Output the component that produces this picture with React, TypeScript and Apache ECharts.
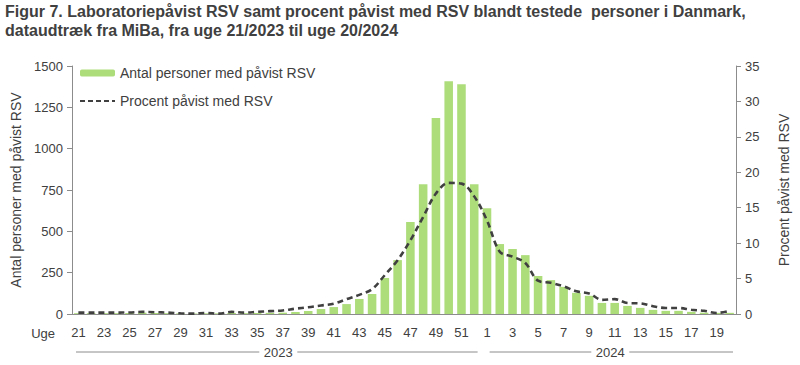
import React, { useEffect, useRef } from "react";
import * as echarts from "echarts";

const TITLE = "Figur 7. Laboratoriepåvist RSV samt procent påvist med RSV blandt testede  personer i Danmark,\ndataudtræk fra MiBa, fra uge 21/2023 til uge 20/2024";

const weeks: string[] = [
  "21", "22", "23", "24", "25", "26", "27", "28", "29", "30", "31", "32", "33", "34", "35", "36",
  "37", "38", "39", "40", "41", "42", "43", "44", "45", "46", "47", "48", "49", "50", "51", "52",
  "1", "2", "3", "4", "5", "6", "7", "8", "9", "10", "11", "12", "13", "14", "15", "16", "17", "18", "19", "20",
];
const years = [
  { label: "2023", from: 0, to: 31 },
  { label: "2024", from: 32, to: 51 },
];

const antalPersoner: number[] = [
  5, 5, 5, 5, 6, 8, 6, 5, 4, 3, 4, 4, 6, 5, 6, 7,
  8, 12, 18, 30, 42, 60, 91, 121, 218, 326, 556, 785, 1185, 1408, 1390, 785,
  640, 423, 393, 356, 230, 205, 164, 128, 110, 67, 67, 49, 37, 25, 19, 19, 13, 8, 7, 7,
];
const procentPaavist: number[] = [
  0.2, 0.2, 0.2, 0.2, 0.22, 0.3, 0.25, 0.2, 0.1, 0.05, 0.15, 0.05, 0.3, 0.2, 0.3, 0.4,
  0.5, 0.75, 0.95, 1.2, 1.45, 2.1, 2.7, 3.5, 5.5, 7.6, 10.4, 13.7, 17.0, 18.5, 18.4, 16.6,
  13.2, 8.8, 8.1, 7.2, 4.7, 4.4, 3.9, 3.2, 2.9, 2.0, 2.1, 1.55, 1.5, 1.1, 0.85, 0.85, 0.6, 0.45, 0.15, 0.45,
];

const FONT = "'Liberation Sans', Arial, sans-serif";
const TXT = "#404040";
const AXIS = "#8c8c8c";

export default function App() {
  const ref = useRef<HTMLDivElement>(null);
  useEffect(() => {
    if (!ref.current) return;
    const chart = echarts.init(ref.current, undefined, { renderer: "svg" });
    const option: any = {
      animation: false,
      textStyle: { fontFamily: FONT },
      title: {
        text: TITLE,
        left: 5,
        top: 2,
        padding: 0,
        textStyle: { fontFamily: FONT, fontSize: 16, fontWeight: "bold", color: TXT, lineHeight: 19 },
      },
      legend: {
        orient: "vertical",
        left: 79,
        top: 65,
        padding: 0,
        itemWidth: 35,
        itemHeight: 7,
        itemGap: 12,
        textStyle: { fontFamily: FONT, fontSize: 14, color: TXT, lineHeight: 16 },
        data: [
          { name: "Antal personer med påvist RSV" },
          { name: "Procent påvist med RSV", itemStyle: { opacity: 0 }, lineStyle: { width: 2, type: [5, 3], color: "#404040" } },
        ],
      },
      grid: { left: 72, right: 64, top: 66, bottom: 51, containLabel: false },
      xAxis: {
        type: "category",
        data: weeks,
        axisLine: { lineStyle: { color: AXIS, width: 1 } },
        axisTick: { interval: 0, length: 5, lineStyle: { color: AXIS } },
        axisLabel: { interval: 1, fontSize: 13, color: TXT, margin: 12, fontFamily: FONT },
      },
      yAxis: [
        {
          type: "value",
          min: 0,
          max: 1500,
          interval: 250,
          name: "Antal personer med påvist RSV",
          nameLocation: "middle",
          nameRotate: 90,
          nameGap: 46,
          nameTextStyle: { fontSize: 14, color: TXT, fontFamily: FONT },
          splitLine: { show: false },
          axisLine: { show: true, lineStyle: { color: AXIS } },
          axisTick: { show: true, length: 5, lineStyle: { color: AXIS } },
          axisLabel: { fontSize: 13, color: TXT, margin: 9, fontFamily: FONT, formatter: (v: number) => String(v) },
        },
        {
          type: "value",
          min: 0,
          max: 35,
          interval: 5,
          name: "Procent påvist med RSV",
          nameLocation: "middle",
          nameRotate: 90,
          nameGap: 41,
          nameTextStyle: { fontSize: 14, color: TXT, fontFamily: FONT },
          splitLine: { show: false },
          axisLine: { show: true, lineStyle: { color: AXIS } },
          axisTick: { show: true, length: 5, lineStyle: { color: AXIS } },
          axisLabel: { fontSize: 13, color: TXT, margin: 9, fontFamily: FONT },
        },
      ],
      series: [
        {
          name: "Antal personer med påvist RSV",
          type: "bar",
          data: antalPersoner,
          barCategoryGap: "33%",
          itemStyle: { color: "#addc7b" },
        },
        {
          name: "Procent påvist med RSV",
          type: "line",
          yAxisIndex: 1,
          data: procentPaavist,
          smooth: 0.35,
          symbol: "none",
          lineStyle: { color: "#404040", width: 2.6, type: [6, 4] },
          itemStyle: { color: "#404040" },
        },
      ],
    };
    chart.setOption(option);

    const y0 = chart.convertToPixel({ yAxisIndex: 0 }, 0) as number;
    const half = (chart.convertToPixel({ xAxisIndex: 0 }, 1) as number) - (chart.convertToPixel({ xAxisIndex: 0 }, 0) as number);
    const edge = (i: number) => (chart.convertToPixel({ xAxisIndex: 0 }, i) as number) - half / 2;
    const labelY = y0 + 19;
    const yearY = y0 + 38;
    const graphics: any[] = [
      {
        type: "text",
        x: 72 - 17,
        y: labelY,
        style: { text: "Uge", font: `13px ${FONT}`, fill: TXT, textAlign: "right", textVerticalAlign: "middle" },
      },
    ];
    years.forEach((yr, k) => {
      const a = edge(yr.from) + (k === 0 ? 4 : 9);
      const b = edge(yr.to + 1) - 3;
      const mid = (edge(yr.from) + edge(yr.to + 1)) / 2 + 2;
      const gap = 19;
      graphics.push(
        { type: "line", shape: { x1: a, y1: yearY, x2: mid - gap, y2: yearY }, style: { stroke: "#8c8c8c", lineWidth: 1 } },
        { type: "line", shape: { x1: mid + gap, y1: yearY, x2: b, y2: yearY }, style: { stroke: "#8c8c8c", lineWidth: 1 } },
        {
          type: "text",
          x: mid,
          y: yearY,
          style: { text: yr.label, font: `13px ${FONT}`, fill: TXT, textAlign: "center", textVerticalAlign: "middle" },
        }
      );
    });
    chart.setOption({ graphic: graphics });
    return () => chart.dispose();
  }, []);
  return <div ref={ref} style={{ width: 800, height: 365, position: "absolute", left: 0, top: 0 }} />;
}
